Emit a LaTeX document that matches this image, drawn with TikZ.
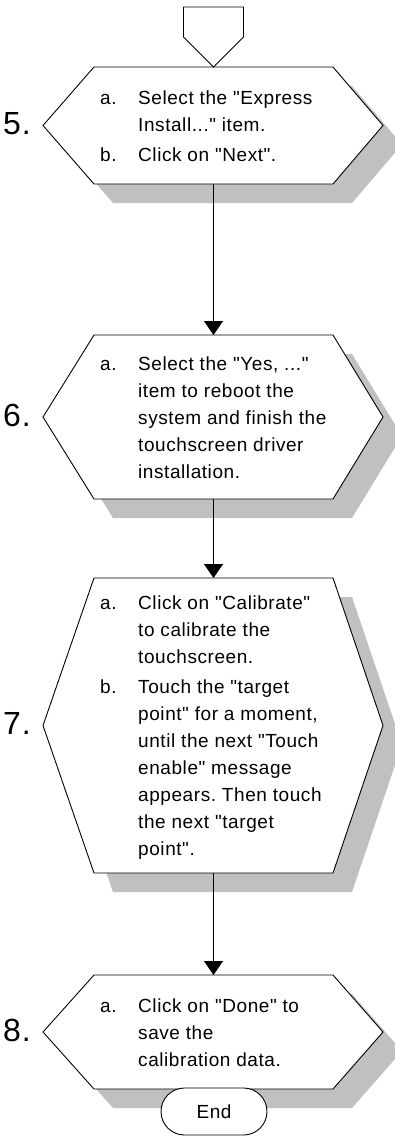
\documentclass[tikz,border=0pt]{standalone}
\usepackage{fontspec}
\setmainfont{Liberation Sans}[Ligatures=TeXOff, LetterSpace=3]
\usetikzlibrary{arrows.meta,shapes.misc}
\definecolor{shadowgray}{HTML}{C0C0C0}
\frenchspacing
\newcommand\hexpath[2]{([shift={#2}]#1.north west) -- ([shift={#2}]#1.north east) -- ([shift={#2},xshift=50pt]#1.east) -- ([shift={#2}]#1.south east) -- ([shift={#2}]#1.south west) -- ([shift={#2},xshift=-51pt]#1.west) -- cycle}
\tikzset{
  hexnode/.style={rectangle, inner sep=0pt, outer sep=0pt, minimum width=239pt},
  numtext/.style={font=\fontsize{32}{36}\selectfont, anchor=base west, inner sep=0pt},
  steptext/.style={font=\fontsize{19}{27}\selectfont, anchor=base west, inner sep=0pt, align=left},
  flow/.style={line width=0.9pt, -{Triangle[width=19pt,length=14pt]}},
  shapeline/.style={line width=0.9pt, draw=black, fill=white},
  shadowfill/.style={fill=shadowgray}
}
\begin{document}
\begin{tikzpicture}[x=1pt,y=-1pt]
\useasboundingbox (0,0) rectangle (395,1136);
% hexagon frames (empty nodes)
\node[hexnode, minimum height=117pt] (h5) at (213.5,125.5) {};
\node[hexnode, minimum height=164pt] (h6) at (213.5,417) {};
\node[hexnode, minimum height=295pt] (h7) at (213.5,725.5) {};
\node[hexnode, minimum height=114pt] (h8) at (213.5,1032) {};
\node[inner sep=0pt, outer sep=0pt, minimum width=60pt, minimum height=30pt] (op) at (213.5,22) {};
% shadows
\fill[shadowfill] \hexpath{h5}{(19,19)};
\fill[shadowfill] \hexpath{h6}{(19,19)};
\fill[shadowfill] \hexpath{h7}{(19,19)};
\fill[shadowfill] \hexpath{h8}{(19,19)};
% shapes
\path[shapeline] \hexpath{h5}{(0,0)};
\path[shapeline] \hexpath{h6}{(0,0)};
\path[shapeline] \hexpath{h7}{(0,0)};
\path[shapeline] \hexpath{h8}{(0,0)};
\path[shapeline] (op.north west) -- (op.north east) -- (op.south east) -- (h5.north) -- (op.south west) -- cycle;
% connectors
\draw[flow] (h5.south) -- (h6.north);
\draw[flow] (h6.south) -- (h7.north);
\draw[flow] (h7.south) -- (h8.north);
% numbers
\node[numtext] (n5) at (3,134.5) {5.};
\node[numtext] (n6) at (3,426) {6.};
\node[numtext] (n7) at (3,734.5) {7.};
\node[numtext] (n8) at (3,1041) {8.};
% texts
\node[steptext] (t5) at (100,104) {\begin{tabular}[t]{@{}p{38pt}@{}l@{}}a.&Select the "Express\\&Install..." item.\\[3pt]b.&Click on "Next".\end{tabular}};
\node[steptext] (t6) at (100,370) {\begin{tabular}[t]{@{}p{38pt}@{}l@{}}a.&Select the "Yes, ..."\\&item to reboot the\\&system and finish the\\&touchscreen driver\\&installation.\end{tabular}};
\node[steptext] (t7) at (100,609.5) {\begin{tabular}[t]{@{}p{38pt}@{}l@{}}a.&Click on "Calibrate"\\&to calibrate the\\&touchscreen.\\[3pt]b.&Touch the "target\\&point" for a moment,\\&until the next "Touch\\&enable" message\\&appears. Then touch\\&the next "target\\&point".\end{tabular}};
\node[steptext] (t8) at (100,1012) {\begin{tabular}[t]{@{}p{38pt}@{}l@{}}a.&Click on "Done" to\\&save the\\&calibration data.\end{tabular}};
% end terminal
\node[draw, rounded rectangle, fill=white, line width=0.9pt, minimum width=106pt, minimum height=47pt, inner sep=0pt, font=\fontsize{19}{23}\selectfont] (end) at (214,1111.5) {End};
\end{tikzpicture}
\end{document}
